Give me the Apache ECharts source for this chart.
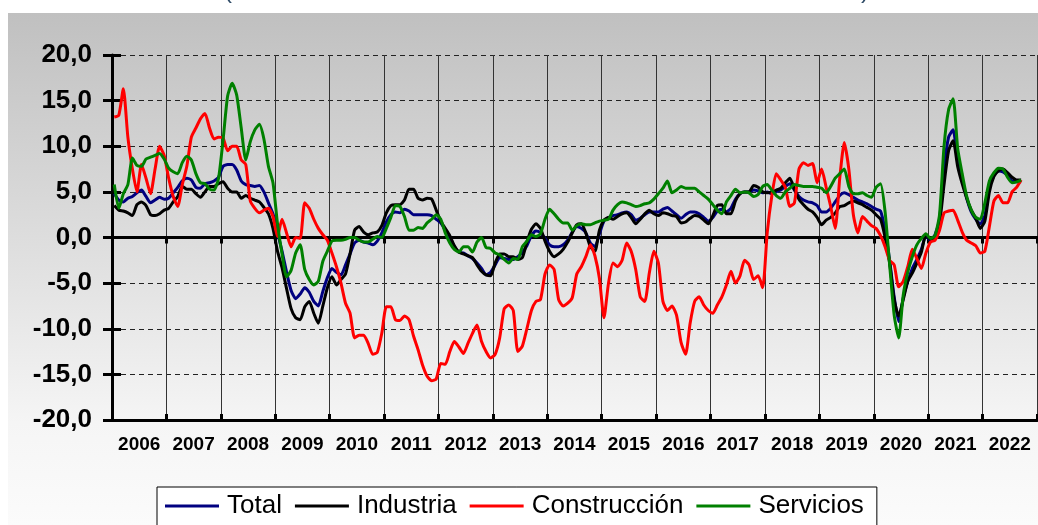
<!DOCTYPE html>
<html>
<head>
<meta charset="utf-8">
<title>Tasa de variación por sectores</title>
<script src="https://cdn.jsdelivr.net/npm/echarts@6.0.0/dist/echarts.min.js"></script>
<style>
html, body { margin: 0; padding: 0; background: #fff; }
#chart { width: 1038px; height: 525px; }
</style>
</head>
<body>
<div id="chart"></div>
<script>
// años del eje X (una banda por año, 12 meses cada una)
var years = ['2006', '2007', '2008', '2009', '2010', '2011', '2012', '2013', '2014',
             '2015', '2016', '2017', '2018', '2019', '2020', '2021', '2022'];
var yMin = -20, yMax = 20, yStep = 5;

// datos mensuales, ene 2006 - sep 2022
var total = [
  4.8, 4.1, 3.9, 4.3, 4.5, 4.9, 5.2, 4.5, 3.8, 4.1, 4.4, 4.2,
  4.3, 4.9, 5.5, 6.2, 6.5, 6.3, 5.5, 5.4, 5.9, 6.0, 6.2, 6.6,
  7.8, 8.0, 8.0, 7.4, 6.2, 5.8, 5.7, 5.6, 5.7, 5.0, 3.8, 2.6,
  0.5, -1.5, -3.8, -5.8, -6.7, -6.2, -5.5, -6.0, -7.0, -7.5, -5.9, -4.4,
  -3.4, -3.8, -4.1, -3.0, -1.8, -0.6, -0.3, -0.5, -0.6, -0.8, -0.4, 0.5,
  1.7, 2.5, 2.8, 2.7, 3.1, 2.9, 2.5, 2.5, 2.5, 2.5, 2.4, 2.0,
  1.6, 0.8, 0.0, -1.0, -1.6, -1.7, -2.0, -2.3, -2.8, -3.4, -4.1, -3.8,
  -3.0, -2.2, -2.3, -2.4, -2.4, -2.1, -1.6, -0.9, 0.2, 0.7, 0.5, -0.1,
  -0.8, -1.0, -1.0, -0.8, -0.3, 0.6, 1.2, 1.0, 0.5, -0.6, -1.0, 0.4,
  1.8, 2.2, 2.4, 2.5, 2.7, 2.8, 2.5, 1.9, 2.1, 2.5, 2.8, 2.8,
  2.8, 3.1, 3.3, 2.9, 2.5, 2.1, 2.5, 2.8, 2.8, 2.6, 2.2, 1.8,
  2.2, 2.9, 3.1, 2.8, 3.2, 4.2, 4.8, 5.0, 5.0, 5.2, 5.1, 4.9,
  5.0, 4.8, 5.0, 5.2, 5.6, 5.9, 5.2, 4.5, 4.1, 3.9, 3.8, 3.5,
  2.8, 2.8, 3.2, 3.9, 4.6, 4.9, 4.7, 4.4, 4.1, 3.9, 3.7, 3.4,
  3.1, 2.9, 0.8, -2.5, -6.5, -9.2, -6.6, -4.8, -3.4, -2.4, -1.3, 0.2,
  -0.3, 0.3, 2.0, 7.5, 11.0, 11.8, 8.3, 6.3, 4.3, 2.8, 2.0, 1.5,
  2.4, 5.4, 6.8, 7.3, 7.2, 6.8, 6.2, 6.1, 6.1
];
var industria = [
  3.5, 3.0, 2.9, 2.7, 2.4, 3.6, 3.9, 3.5, 2.5, 2.4, 2.6, 3.0,
  3.2, 3.9, 4.5, 5.6, 5.3, 5.3, 4.8, 4.4, 5.0, 5.6, 5.6, 5.9,
  6.1, 5.4, 5.0, 5.0, 4.3, 4.6, 4.3, 4.1, 3.9, 3.3, 2.6, 1.0,
  -1.5, -3.3, -5.6, -7.8, -8.8, -9.0, -7.6, -7.0, -8.3, -9.4, -7.5, -5.5,
  -4.3, -5.2, -4.6, -4.0, -1.8, 0.8, 1.2, 0.6, 0.3, 0.5, 0.6, 1.3,
  2.7, 3.5, 3.6, 3.6, 4.1, 5.3, 5.3, 4.3, 4.1, 4.3, 4.2, 3.0,
  1.8, 1.0, 0.2, -0.9, -1.6, -1.8, -2.0, -2.2, -3.0, -3.7, -4.1, -4.2,
  -2.8, -1.8, -1.8, -2.1, -2.1, -2.4, -2.2, -0.5, 0.9, 1.5, 1.0, -0.4,
  -1.5, -2.1, -1.8, -1.3, -0.5, 0.5, 1.4, 1.5, 0.5, -1.0, -1.5, 0.8,
  1.9, 2.2, 2.0, 2.3, 2.6, 2.7, 2.2, 1.5, 2.0, 2.6, 3.0, 2.6,
  2.4, 2.7, 2.6, 2.4, 2.3, 1.6, 1.7, 2.1, 2.4, 2.3, 1.9, 1.5,
  2.4, 3.5, 3.6, 2.6, 2.6, 4.0, 4.8, 5.0, 5.0, 5.7, 5.5, 5.0,
  4.9, 5.0, 5.2, 5.4, 6.0, 6.5, 5.3, 4.2, 3.6, 3.1, 2.8, 2.2,
  1.4, 1.9, 2.2, 2.7, 3.4, 3.5, 3.8, 4.0, 3.8, 3.6, 3.3, 3.0,
  2.5, 2.0, 0.0, -2.8, -6.8, -8.6, -6.8, -4.8, -3.9, -2.8, -1.6, 0.3,
  -0.2, 0.0, 1.5, 5.8, 9.5, 10.6, 7.8, 5.9, 4.3, 3.0, 2.1, 1.0,
  1.8, 5.0, 6.7, 7.3, 7.5, 7.1, 6.6, 6.3, 6.3
];
var construccion = [
  13.2, 13.4, 16.3, 11.0, 7.5, 5.0, 8.0, 6.5, 4.8, 7.5, 10.0, 9.0,
  6.5, 4.5, 3.4, 5.8, 7.8, 11.0, 12.0, 13.0, 13.6, 12.0, 10.8, 11.0,
  10.9, 9.5, 10.0, 10.0, 8.5, 8.0, 4.0, 3.2, 2.7, 3.0, 3.2, 2.3,
  0.1, 2.0, 0.5, -1.0, 0.0, -0.1, 3.8, 3.2, 2.0, 1.0, 0.3, -0.3,
  -1.7, -3.2, -5.0, -7.2, -8.3, -11.0, -10.7, -10.7, -11.6, -12.8, -12.6, -10.5,
  -7.6, -7.6, -9.0, -9.1, -8.6, -9.0, -10.8, -12.3, -14.0, -15.2, -15.7, -15.5,
  -13.8, -13.9, -12.5, -11.4, -12.0, -12.7, -11.6, -10.5, -9.6, -11.4, -12.5, -13.2,
  -12.8, -11.0, -7.8, -7.4, -8.0, -12.5, -11.9, -10.0, -8.0, -7.0, -6.8, -4.0,
  -3.0, -3.5, -6.8, -7.5, -7.2, -6.6, -4.0, -3.2, -2.1, -0.8, -2.0, -4.5,
  -8.8, -5.0, -2.8, -3.2, -2.5, -0.6, -1.5, -3.5, -6.5, -7.0, -3.9, -1.5,
  -2.8, -7.0, -8.0, -7.5, -8.5, -11.5, -12.8, -9.4, -7.0, -6.5, -7.4, -8.0,
  -8.3, -7.4, -6.5, -5.2, -3.7, -5.0, -4.2, -2.5, -3.0, -4.6, -4.2, -5.5,
  0.5, 4.5, 7.0, 6.3, 5.5, 3.4, 3.8, 7.5, 8.2, 7.9, 8.1, 6.0,
  7.5, 5.5, 3.4, 1.0, 6.5, 10.4, 7.5, 2.5, 0.5, 2.3, 1.8, 1.3,
  1.0, 0.2, -1.0, -2.5, -3.0, -5.4, -4.8, -3.2, -1.3, -2.3, -3.4, -1.7,
  -0.5, -0.3, 0.8, 2.7, 2.9, 3.0, 1.9, 0.6, -0.3, -0.6, -0.9, -1.7,
  -1.5, 1.2, 4.0, 4.6, 3.8, 3.8, 5.0, 5.5, 6.3
];
var servicios = [
  5.8, 3.2, 4.8, 5.8, 8.7, 7.9, 7.8, 8.6, 8.8, 9.0, 9.2, 8.6,
  7.6, 7.2, 7.0, 8.2, 8.9, 8.5, 7.0, 6.0, 5.9, 5.3, 5.2, 6.5,
  10.7, 15.5, 16.9, 15.6, 12.0, 8.5, 10.5, 11.8, 12.4, 10.8, 7.8, 6.0,
  1.5, -1.8, -4.3, -3.6, -1.7, -0.8, -3.5, -4.6, -5.2, -4.8, -2.6, -1.5,
  -0.4, -0.3, -0.3, -0.2, 0.0, 0.0, -0.3, -0.5, -0.5, -0.2, 0.1, 0.0,
  1.0, 2.2, 3.5, 3.4, 2.3, 0.8, 0.8, 1.1, 1.0, 1.6, 2.0, 2.5,
  2.0, 0.5, -0.6, -1.3, -1.6, -1.0, -1.0, -1.6, -0.5, 0.0, -1.1, -1.2,
  -1.7, -1.9, -2.4, -2.8, -2.3, -2.4, -1.0, -0.4, 0.3, 0.1, 0.4, 2.0,
  3.1, 2.6, 2.0, 1.6, 1.6, 0.8, 1.3, 1.5, 1.4, 1.4, 1.6, 1.8,
  1.9, 2.0, 3.0, 3.6, 3.9, 3.8, 3.6, 3.4, 3.5, 3.7, 3.8, 4.2,
  4.8, 5.4, 6.2, 4.9, 5.2, 5.6, 5.4, 5.4, 5.4, 5.0, 4.6, 4.2,
  3.6, 3.0, 2.6, 3.9, 4.6, 5.3, 4.9, 5.0, 4.9, 4.5, 4.7, 5.6,
  5.8, 5.2, 4.6, 4.3, 5.0, 5.4, 5.8, 5.7, 5.6, 5.6, 5.6, 5.5,
  5.4, 4.9, 5.6, 6.5, 7.0, 7.5, 5.6, 4.8, 4.8, 4.9, 4.6, 4.4,
  5.5, 5.9, 2.8, -3.0, -8.5, -11.0, -6.3, -3.8, -2.1, -0.8, -0.1, 0.4,
  -0.1, 0.2, 2.5, 10.0, 14.0, 15.2, 9.8, 7.0, 4.5, 3.0, 2.2, 2.0,
  3.8, 6.2, 7.1, 7.6, 7.5, 6.6, 6.0, 6.1, 6.3
];

var months = [];
years.forEach(function (y) {
  for (var m = 1; m <= 12; m++) months.push(y + '-' + (m < 10 ? '0' + m : m));
});

var FONT = '"Liberation Sans", Arial, Helvetica, sans-serif';

var myChart = echarts.init(document.getElementById('chart'));

// eje en el cero con marcas de año (una copia hacia fuera y otra hacia dentro)
var zeroAxis = function (inside) {
  return {
    type: 'category', data: years, boundaryGap: true, position: 'bottom',
    axisLine: { show: true, onZero: true, lineStyle: { color: '#000', width: 3 } },
    axisTick: { show: true, inside: inside, length: 6, interval: 0, lineStyle: { color: '#000', width: 3 } },
    axisLabel: { show: false },
    splitLine: { show: false }
  };
};

myChart.setOption({
  animation: false,
  backgroundColor: '#fff',
  graphic: [
    {
      type: 'rect', z: -10, silent: true,
      shape: { x: 8, y: 13, width: 1030, height: 512 },
      style: {
        fill: new echarts.graphic.LinearGradient(0, 0, 0, 1, [
          { offset: 0, color: '#c0c0c0' },
          { offset: 0.8, color: '#f5f5f5' },
          { offset: 1, color: '#fbfbfb' }
        ])
      }
    },
    // restos del título recortado
    { type: 'text', left: 224, top: -21, silent: true,
      style: { text: '(', fontSize: 24, fontFamily: FONT, fill: '#2e4a66' } },
    { type: 'text', left: 861, top: -21, silent: true,
      style: { text: ')', fontSize: 24, fontFamily: FONT, fill: '#2e4a66' } }
  ],
  grid: { left: 112, right: 1, top: 55, bottom: 105, outerBoundsMode: 'none' },
  legend: {
    left: 157, top: 487,
    icon: 'rect',
    itemWidth: 54, itemHeight: 3, itemGap: 13,
    padding: [6, 13, 14, 8],
    borderColor: '#000', borderWidth: 1, backgroundColor: '#fff',
    textStyle: { fontSize: 26, color: '#000', fontFamily: FONT, padding: [0, 0, 0, 3] },
    data: ['Total', 'Industria', 'Construcción', 'Servicios']
  },
  xAxis: [
    {
      type: 'category', data: years, boundaryGap: true, position: 'bottom',
      axisLine: { show: false, onZero: false },
      axisTick: { show: false },
      axisLabel: { interval: 0, fontSize: 19, fontWeight: 'bold', color: '#000', fontFamily: FONT, margin: 15 },
      splitLine: { show: true, interval: 0, lineStyle: { color: '#333', width: 1 } }
    },
    {
      type: 'category', data: months, boundaryGap: true, show: false, position: 'bottom'
    },
    zeroAxis(false),
    zeroAxis(true)
  ],
  yAxis: [
    {
      type: 'value', position: 'left', min: yMin, max: yMax, interval: yStep,
      axisLine: { show: true, onZero: false, lineStyle: { color: '#000', width: 3 } },
      axisTick: { show: true, length: 9, lineStyle: { color: '#000', width: 3 } },
      axisLabel: {
        fontSize: 26, fontWeight: 'bold', color: '#000', fontFamily: FONT, margin: 20,
        formatter: function (v) { return v.toFixed(1).replace('.', ','); }
      },
      splitLine: { show: true, lineStyle: { color: '#222', width: 1, type: [5, 4] } }
    },
    {
      type: 'value', position: 'left', min: yMin, max: yMax, interval: yStep,
      axisLine: { show: false, onZero: false },
      axisTick: { show: true, inside: true, length: 9, lineStyle: { color: '#000', width: 3 } },
      axisLabel: { show: false },
      splitLine: { show: false }
    }
  ],
  series: [
    { name: 'Total', type: 'line', xAxisIndex: 1, data: total, symbol: 'none', smooth: 0.2,
      lineStyle: { color: '#000080', width: 3 }, itemStyle: { color: '#000080' } },
    { name: 'Industria', type: 'line', xAxisIndex: 1, data: industria, symbol: 'none', smooth: 0.2,
      lineStyle: { color: '#000000', width: 3 }, itemStyle: { color: '#000000' } },
    { name: 'Construcción', type: 'line', xAxisIndex: 1, data: construccion, symbol: 'none', smooth: 0.2,
      lineStyle: { color: '#ff0000', width: 3 }, itemStyle: { color: '#ff0000' } },
    { name: 'Servicios', type: 'line', xAxisIndex: 1, data: servicios, symbol: 'none', smooth: 0.2,
      lineStyle: { color: '#008000', width: 3 }, itemStyle: { color: '#008000' } }
  ]
});
</script>
</body>
</html>
